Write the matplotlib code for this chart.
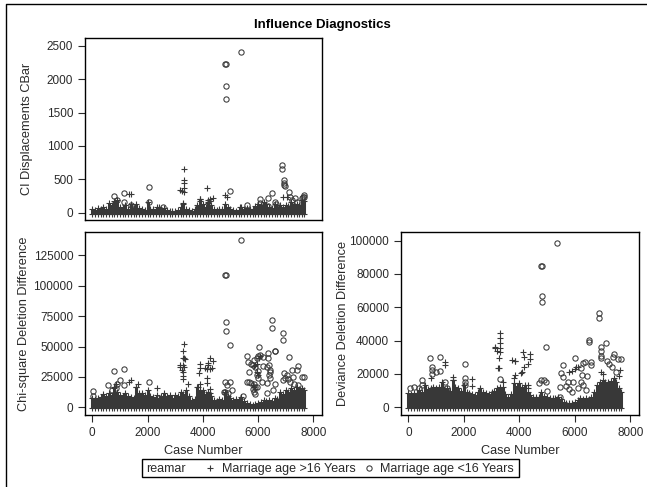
import matplotlib
matplotlib.use("Agg")
import matplotlib.pyplot as plt
from matplotlib.lines import Line2D
from matplotlib.patches import Rectangle

plt.rcParams['font.family'] = ['Liberation Sans', 'DejaVu Sans']

W, H = 647, 487
DARK = '#383838'
TEXT = '#2a2a2a'

# dense band along the bottom of each panel, read as an upper envelope
band_x = [0, 100, 200, 300, 400, 500, 600, 700, 800, 900, 1000, 1100, 1200, 1300, 1400,
          1500, 1600, 1700, 1800, 1900, 2000, 2100, 2200, 2300, 2400, 2500, 2600, 2700,
          2800, 2900, 3000, 3100, 3200, 3300, 3400, 3500, 3600, 3700, 3800, 3900, 4000,
          4100, 4200, 4300, 4400, 4500, 4600, 4700, 4800, 4900, 5000, 5100, 5200, 5300,
          5400, 5500, 5600, 5700, 5800, 5900, 6000, 6100, 6200, 6300, 6400, 6500, 6600,
          6700, 6800, 6900, 7000, 7100, 7200, 7300, 7400, 7500, 7600, 7650]
band_cbar = [60, 45, 65, 55, 85, 60, 145, 110, 180, 190, 85, 70, 120, 60, 130, 70, 125,
             70, 60, 45, 160, 60, 50, 35, 85, 55, 75, 40, 30, 20, 30, 35, 85, 130, 60,
             40, 30, 50, 110, 210, 135, 90, 160, 110, 60, 45, 50, 55, 135, 90, 50, 35,
             30, 40, 85, 50, 75, 55, 60, 95, 125, 110, 160, 130, 85, 65, 135, 80, 110,
             90, 110, 95, 160, 130, 135, 120, 185, 170]
band_chi = [7400, 6500, 7400, 8500, 11000, 9000, 11500, 10000, 15600, 13000, 10000, 9000,
            11500, 9000, 8800, 8000, 17000, 12000, 11500, 10000, 14000, 9500, 8800, 8000,
            7400, 9000, 11500, 9500, 10000, 8000, 10000, 9500, 13000, 11000, 14000, 9000,
            6000, 7000, 17000, 14000, 14000, 11000, 13000, 9000, 6000, 5000, 6800, 6000,
            13000, 9000, 8000, 6000, 6800, 6000, 8800, 5000, 3300, 2500, 2000, 2500, 3300,
            4500, 6000, 5000, 6000, 5500, 8000, 7000, 13000, 11000, 14000, 13000, 15600,
            14000, 17000, 15000, 15600, 14000]
band_dev = [8400, 8000, 8400, 8800, 10400, 9000, 13400, 11000, 11400, 12000, 11400, 12000,
            15400, 11000, 11400, 10000, 16400, 12000, 11400, 10000, 13400, 9500, 8400,
            7800, 7400, 9000, 11400, 9000, 8400, 8000, 9400, 10000, 11400, 12000, 12400,
            8000, 6400, 8000, 14400, 13000, 14400, 12000, 13400, 9000, 7400, 6000, 6400,
            6000, 9400, 7000, 6400, 5600, 5400, 5500, 6400, 5000, 3400, 2800, 2400, 2800,
            3400, 4500, 5400, 5000, 5400, 5000, 6400, 9000, 13400, 15000, 16400, 15000,
            15400, 16000, 17400, 15000, 11400, 9400]

# CI Displacements CBar
cbar_circ_x = [4805, 4825, 4840, 4840, 5380, 6880, 6880, 6950, 6950, 6950, 2040, 1160,
               800, 1160, 6515, 6370, 6070, 4970, 5600, 6370, 6610, 7130, 7150, 7335,
               7400, 7580, 7650, 7620, 2040, 880, 1390, 2570, 6960, 7240, 7660, 6640, 6080]
cbar_circ_y = [2225, 2225, 1895, 1700, 2410, 715, 650, 490, 450, 420, 390, 290, 255,
               165, 290, 220, 210, 330, 115, 100, 165, 315, 240, 215, 165, 215, 260,
               230, 165, 190, 115, 90, 395, 190, 235, 130, 150]
cbar_plus_x = [3330, 4160, 3330, 3330, 3330, 3330, 3170, 3230, 1390, 1340, 4800, 4860,
               4380, 4260, 4200, 3900, 6910, 7030, 5345, 2330, 3300, 3900, 4260, 4200]
cbar_plus_y = [650, 375, 490, 440, 365, 315, 340, 330, 280, 280, 265, 240, 215, 205,
               190, 200, 240, 240, 90, 90, 140, 170, 180, 150]

# Chi-square Deletion Difference
chi_circ_x = [5380, 4805, 4825, 4840, 4840, 4985, 6515, 6515, 6890, 6890, 6610, 6625,
              7130, 6045, 6370, 6370, 6400, 6430, 6410, 5600, 5650, 5680, 5950, 6010,
              6070, 6190, 5850, 5890, 6010, 6190, 6310, 6430, 6430, 6310, 6130, 6010,
              5950, 5600, 5680, 5760, 5850, 5950, 785, 1160, 1000, 1160, 580, 880,
              2040, 36, 12, 7440, 7400, 7220, 7040, 6980, 7280, 7670, 7580, 6920, 6610,
              6550, 6310, 4800, 4980, 4860, 4800, 5060, 5440, 5800, 5850, 5900, 5900,
              5750, 5800, 7100, 7150, 7300, 7450, 6950, 700, 850, 4900, 4750]
chi_circ_y = [137300, 109100, 109100, 69900, 62500, 51000, 72100, 65000, 60800, 55100,
              46300, 46600, 41700, 49300, 44400, 40300, 34800, 31000, 26600, 42500,
              37500, 29300, 40300, 42500, 43000, 41700, 38900, 33000, 30000, 34000,
              33000, 29000, 24000, 20000, 21000, 24000, 27000, 21000, 20500, 20000,
              19000, 17000, 29900, 31500, 22500, 18400, 18100, 18900, 20800, 13400,
              9000, 34000, 31000, 30500, 26500, 24000, 25000, 25000, 25000, 22500,
              18900, 14250, 11500, 21000, 21000, 18500, 12900, 14000, 9600, 15000,
              13000, 11000, 17000, 36000, 35000, 23000, 21000, 19000, 18000, 28000,
              14000, 16000, 12000, 13000]
chi_plus_x = [3330, 3280, 3330, 3180, 3270, 3330, 3230, 3180, 3300, 3300, 3300, 4260,
              4380, 4200, 4080, 4140, 3900, 3860, 3900, 4140, 4260, 4200, 4320, 1390,
              1340, 2330, 2330, 3470, 4260, 4260, 4140, 5950, 5850, 5900, 5800, 5980,
              6000, 6020, 3290, 3340, 6060, 5860, 5880, 3840, 3900, 1600, 1640, 800, 850]
chi_plus_y = [52300, 46600, 40300, 35000, 35000, 33000, 31000, 33000, 29000, 26000,
              23000, 41000, 38500, 35000, 32000, 31500, 35500, 28000, 32000, 24000,
              31500, 36500, 32000, 22500, 21000, 15800, 10300, 19000, 15500, 11500, 20000,
              36000, 34000, 35000, 18000, 29000, 27000, 41000, 41000, 40000, 42000, 17000,
              15000, 17000, 19000, 17000, 19000, 17000, 19000]

# Deviance Deletion Difference
dev_circ_x = [5360, 4800, 4820, 4810, 4810, 4970, 6865, 6865, 6500, 6500, 7130, 6950,
              6950, 6950, 6930, 7400, 7370, 7550, 7650, 770, 1135, 2030, 1135, 845, 845,
              980, 6020, 6290, 6370, 6590, 6590, 5575, 3295, 6230, 6260, 6230, 6290,
              6410, 6110, 5930, 5750, 5570, 5510, 5450, 5450, 4800, 4900, 4710, 4950,
              2030, 2030, 2030, 500, 500, 50, 190, 370, 1340, 1380, 5800, 5900, 5700,
              6450, 7250, 7350, 7500, 7150, 7600, 850, 5000]
dev_circ_y = [98400, 84600, 84600, 66800, 63200, 36400, 56600, 53400, 40600, 39200,
              38400, 36400, 33800, 31000, 29400, 31800, 30400, 29200, 29200, 29400,
              30400, 26200, 22000, 24400, 22400, 21400, 29800, 26400, 27000, 27000,
              25400, 25600, 17000, 23400, 19400, 15400, 13400, 10400, 11400, 15400,
              15400, 18400, 20400, 12400, 6400, 16400, 16400, 14400, 15400, 17400,
              15400, 13400, 16400, 13400, 11800, 12400, 11800, 15000, 11400, 11000,
              9000, 13000, 19000, 26000, 24000, 21000, 28000, 8800, 20000, 10000]
dev_plus_x = [3290, 3290, 3290, 3290, 3140, 3200, 3300, 3140, 3260, 3230, 3260, 4150,
              4170, 4380, 4380, 4300, 4170, 4110, 4050, 3860, 3860, 3860, 3800, 3740,
              1340, 1340, 2310, 2310, 1620, 1620, 4300, 4300, 800, 5800, 5900, 6000,
              6040, 6100, 6930, 7000, 7630, 7600, 3400]
dev_plus_y = [44400, 41400, 38400, 35800, 35400, 33800, 33400, 36400, 29400, 23800,
              23400, 33400, 30400, 31800, 29000, 25800, 24400, 21400, 20400, 28000,
              27600, 19400, 17800, 28400, 27400, 25400, 17000, 12800, 18400, 16400,
              13400, 11400, 17400, 21000, 22000, 23000, 24000, 24000, 21000, 20000,
              22500, 19000, 15000]

# panel: pixel box (left, right, top, bottom), limits, band floor, ylabel x in pixels
xlim = (-264, 8315)
xticks = [0, 2000, 4000, 6000, 8000]
panels = [
    ((85, 322, 38, 220), (-110, 2620), [0, 500, 1000, 1500, 2000, 2500], -25, 27,
     'CI Displacements CBar', band_cbar, cbar_circ_x, cbar_circ_y, cbar_plus_x, cbar_plus_y),
    ((85, 322, 232, 415), (-6250, 144160), [0, 25000, 50000, 75000, 100000, 125000], -800, 24,
     'Chi-square Deletion Difference', band_chi, chi_circ_x, chi_circ_y, chi_plus_x, chi_plus_y),
    ((401, 639, 232, 415), (-4600, 105200), [0, 20000, 40000, 60000, 80000, 100000], -600, 343,
     'Deviance Deletion Difference', band_dev, dev_circ_x, dev_circ_y, dev_plus_x, dev_plus_y),
]

fig = plt.figure(figsize=(W / 100, H / 100), dpi=100)

for i, (box, ylim, yticks, floor, label_px, ylabel, band, cx, cy, px, py) in enumerate(panels):
    l, r, t, b = box
    ax = fig.add_axes([l / W, 1 - b / H, (r - l) / W, (b - t) / H])
    ax.vlines(band_x, floor, band, color=DARK, lw=2.2, zorder=2)
    ax.plot(band_x, band, '+', color=DARK, ms=4.2, mew=0.8, zorder=2)
    ax.plot(band_x, [floor] * len(band_x), '+', color=DARK, ms=4.2, mew=0.8, zorder=2)
    ax.plot(px, py, '+', color=DARK, ms=4.4, mew=0.8, zorder=3)
    ax.plot(cx, cy, 'o', mfc='none', mec=DARK, ms=3.8, mew=0.75, zorder=3)
    ax.set_xlim(xlim)
    ax.set_ylim(ylim)
    ax.set_yticks(yticks)
    ax.set_ylabel(ylabel, fontsize=9.2, color=TEXT, va='center')
    ax.yaxis.set_label_coords((label_px - l) / (r - l), 0.5)
    if i == 0:
        ax.set_xticks([])
    else:
        ax.set_xticks(xticks)
        ax.set_xlabel('Case Number', fontsize=9.2, color=TEXT, labelpad=4.5)
    ax.tick_params(length=5, width=0.8, labelsize=8.5, colors=TEXT)
    for s in ax.spines.values():
        s.set_linewidth(1.0)

fig.text(322 / W, 1 - 25 / H, 'Influence Diagnostics', fontsize=9.5, fontweight='bold',
         ha='center', va='center')

# legend box
fig.add_artist(Rectangle((142 / W, 1 - 477 / H), 377 / W, 18 / H, transform=fig.transFigure,
                         fill=False, ec='black', lw=1.0))
fig.text(146 / W, 1 - 469 / H, 'reamar', fontsize=9, color=TEXT, va='center')
fig.add_artist(Line2D([210 / W], [1 - 468 / H], marker='+', color=DARK, ms=4.4, mew=0.8,
                      transform=fig.transFigure))
fig.text(222 / W, 1 - 469 / H, 'Marriage age >16 Years', fontsize=9, color=TEXT, va='center')
fig.add_artist(Line2D([369 / W], [1 - 468 / H], marker='o', mfc='none', mec=DARK, ms=3.8,
                      mew=0.75, transform=fig.transFigure))
fig.text(380 / W, 1 - 469 / H, 'Marriage age <16 Years', fontsize=9, color=TEXT, va='center')

# page border, left and top only
fig.add_artist(Line2D([5.5 / W, 5.5 / W, 1], [0, 1 - 3.5 / H, 1 - 3.5 / H], color='black',
                      lw=1.0, transform=fig.transFigure))

fig.savefig('out.png', dpi=100)
